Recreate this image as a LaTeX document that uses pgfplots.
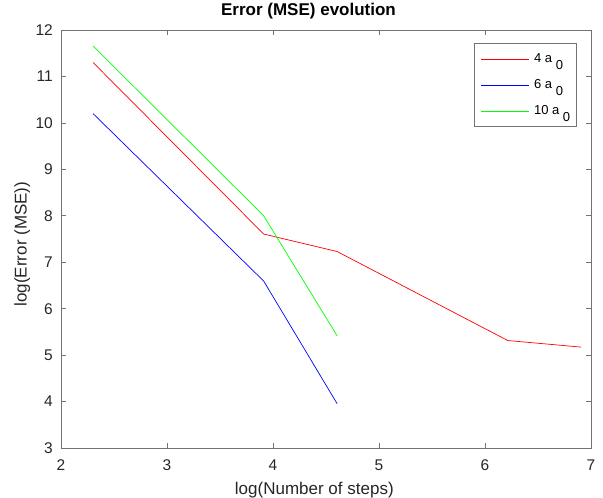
\documentclass[border=0pt]{standalone}
\usepackage{pgfplots}
\pgfplotsset{compat=1.18}
\usepackage{fontspec}
\setmainfont{Liberation Sans}
\definecolor{axgray}{RGB}{115,115,115}
\definecolor{txtgray}{RGB}{38,38,38}
\definecolor{mred}{RGB}{255,0,0}
\definecolor{mblue}{RGB}{0,0,255}
\definecolor{mgreen}{RGB}{0,255,0}
\begin{document}
\begin{tikzpicture}
\useasboundingbox (0,0) rectangle (603pt,498pt);
\begin{axis}[
  at={(61pt,50pt)}, anchor=south west,
  width=530pt, height=418pt, scale only axis,
  xmin=2, xmax=7, ymin=3, ymax=12,
  xtick={2,3,4,5,6,7}, ytick={3,4,5,6,7,8,9,10,11,12},
  tick align=inside, tick pos=both, ticklabel pos=left,
  major tick length=5pt,
  every tick/.style={draw=axgray, line width=0.7pt},
  axis line style={draw=axgray, line width=0.8pt},
  /pgf/number format/assume math mode=true,
  tick label style={font=\fontsize{15.5}{18}\selectfont, text=txtgray},
  xticklabel style={anchor=base, inner sep=0pt, yshift=-22.5pt},
  yticklabel style={anchor=east, inner sep=0pt, xshift=-8pt},
  title={\textbf{Error (MSE) evolution}},
  title style={at={(axis description cs:0.467,1)}, anchor=base, yshift=8.3pt, inner sep=0pt, font=\fontsize{17}{20}\selectfont, text=black},
  xlabel={log(Number of steps)},
  xlabel style={at={(axis description cs:0.478,0)}, anchor=base, yshift=-46.8pt, inner sep=0pt, font=\fontsize{17}{20}\selectfont, text=txtgray},
  ylabel={log(Error (MSE))},
  ylabel style={at={([xshift=-34.3pt]axis description cs:0,0.488)}, anchor=base, rotate=0, inner sep=0pt, font=\fontsize{17}{20}\selectfont, text=txtgray},
  legend cell align=left,
  legend style={at={(axis description cs:0.9736,0.9689)}, anchor=north east,
    draw=axgray, line width=0.6pt, fill=white,
    inner xsep=6.5pt, inner ysep=2.5pt, column sep=4pt, row sep=0pt,
    font=\fontsize{13}{15}\selectfont,
    nodes={inner sep=0pt, text height=16.8pt, text depth=9.2pt},
    cells={anchor=base west}},
  legend image code/.code={%
    \draw[#1, line width=1.5pt] (0pt,3.3pt) -- (48pt,3.3pt);},
]
\addplot[color=mred, line width=0.7pt] coordinates {(2.3026,11.30) (3.9120,7.607) (4.6052,7.23) (6.2146,5.314) (6.9078,5.172)};
\addlegendentry{4 a \raisebox{-6.5pt}{0}}
\addplot[color=mblue, line width=0.7pt] coordinates {(2.3026,10.20) (3.9120,6.595) (4.6052,3.953)};
\addlegendentry{6 a \raisebox{-6.5pt}{0}}
\addplot[color=mgreen, line width=0.7pt] coordinates {(2.3026,11.655) (3.9120,8.00) (4.6052,5.415)};
\addlegendentry{10 a \raisebox{-6.5pt}{0}}
\end{axis}
\end{tikzpicture}
\end{document}
